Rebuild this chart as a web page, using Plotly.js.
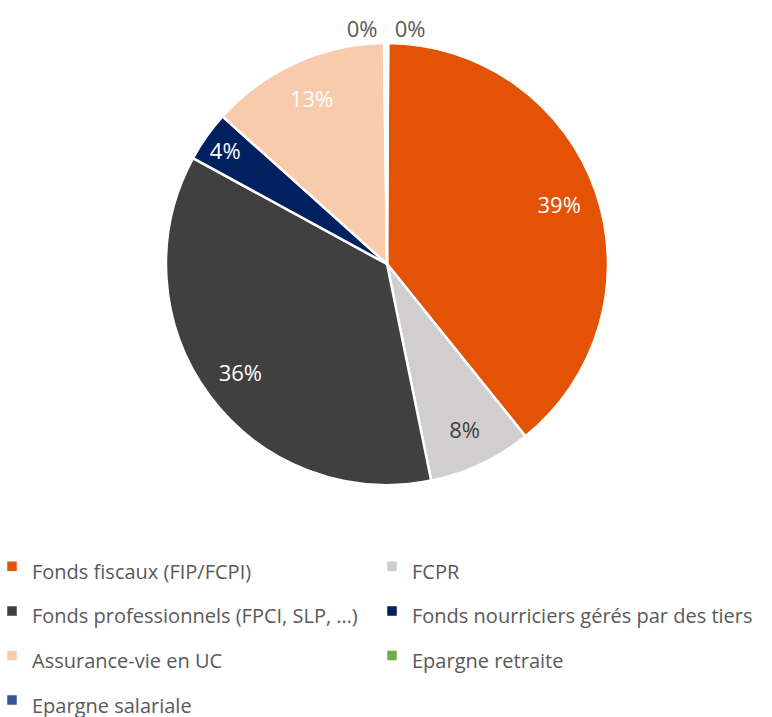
<!DOCTYPE html>
<html>
<head>
<meta charset="utf-8">
<script src="https://cdn.plot.ly/plotly-3.0.1.min.js"></script>
<style>html,body{margin:0;padding:0;background:#fff;}#chart{width:772px;height:717px;}</style>
</head>
<body>
<div id="chart"></div>
<script>
const categories = ["Fonds fiscaux (FIP/FCPI)", "FCPR", "Fonds professionnels (FPCI, SLP, …)", "Fonds nourriciers gérés par des tiers", "Assurance-vie en UC", "Epargne retraite", "Epargne salariale"];
const shares = [39.3, 7.6, 36.3, 3.7, 13.2, 0.15, 0.15];
const colors = ["#E35205", "#D0CECE", "#404040", "#002060", "#F8CBAD", "#70AD47", "#2F5597"];
const textColors = ["#ffffff", "#404040", "#ffffff", "#ffffff", "#ffffff", "#595959", "#595959"];
const outerTextPos = ["none", "none", "none", "none", "none", "outside", "outside"];
const innerTextPos = ["inside", "inside", "inside", "inside", "inside", "none", "none"];

const legendLabels = categories.map(c => '<span style="font-size:20px">' + c + '</span>');

const W = 772, H = 717;
const cx = 387, cy = 264, R = 221;
const dom = { x: [(cx - R) / W, (cx + R) / W], y: [(H - cy - R) / H, (H - cy + R) / H] };
const font = "Open Sans, sans-serif";

const pieMain = {
  type: "pie",
  labels: legendLabels,
  values: shares,
  sort: false,
  direction: "clockwise",
  rotation: 0.3,
  automargin: false,
  marker: { colors: colors, line: { color: "#ffffff", width: 2.5 } },
  texttemplate: "%{percent:.0%}",
  textposition: outerTextPos,
  textfont: { family: font, size: 22, color: textColors },
  hoverinfo: "label+percent",
  domain: dom
};

// transparent ring used only to place the percentage labels near the rim
const pieLabels = {
  type: "pie",
  labels: legendLabels,
  values: shares,
  sort: false,
  direction: "clockwise",
  rotation: 0.3,
  hole: 0.65,
  automargin: false,
  showlegend: false,
  marker: { colors: shares.map(() => "rgba(0,0,0,0)"), line: { width: 0 } },
  texttemplate: "%{percent:.0%}",
  textposition: innerTextPos,
  insidetextorientation: "horizontal",
  textfont: { family: font, size: 22, color: textColors },
  hoverinfo: "skip",
  domain: dom
};

const layout = {
  width: W, height: H,
  margin: { l: 0, r: 0, t: 0, b: 0, autoexpand: false },
  paper_bgcolor: "#ffffff",
  showlegend: true,
  legend: {
    orientation: "h",
    entrywidth: 343,
    entrywidthmode: "pixels",
    indentation: -8,
    x: 0, xanchor: "left",
    y: (H - 539) / H, yanchor: "top",
    font: { family: font, size: 32, color: "#595959" },
    traceorder: "normal"
  }
};

Plotly.newPlot("chart", [pieMain, pieLabels], layout, { displayModeBar: false });
</script>
</body>
</html>
